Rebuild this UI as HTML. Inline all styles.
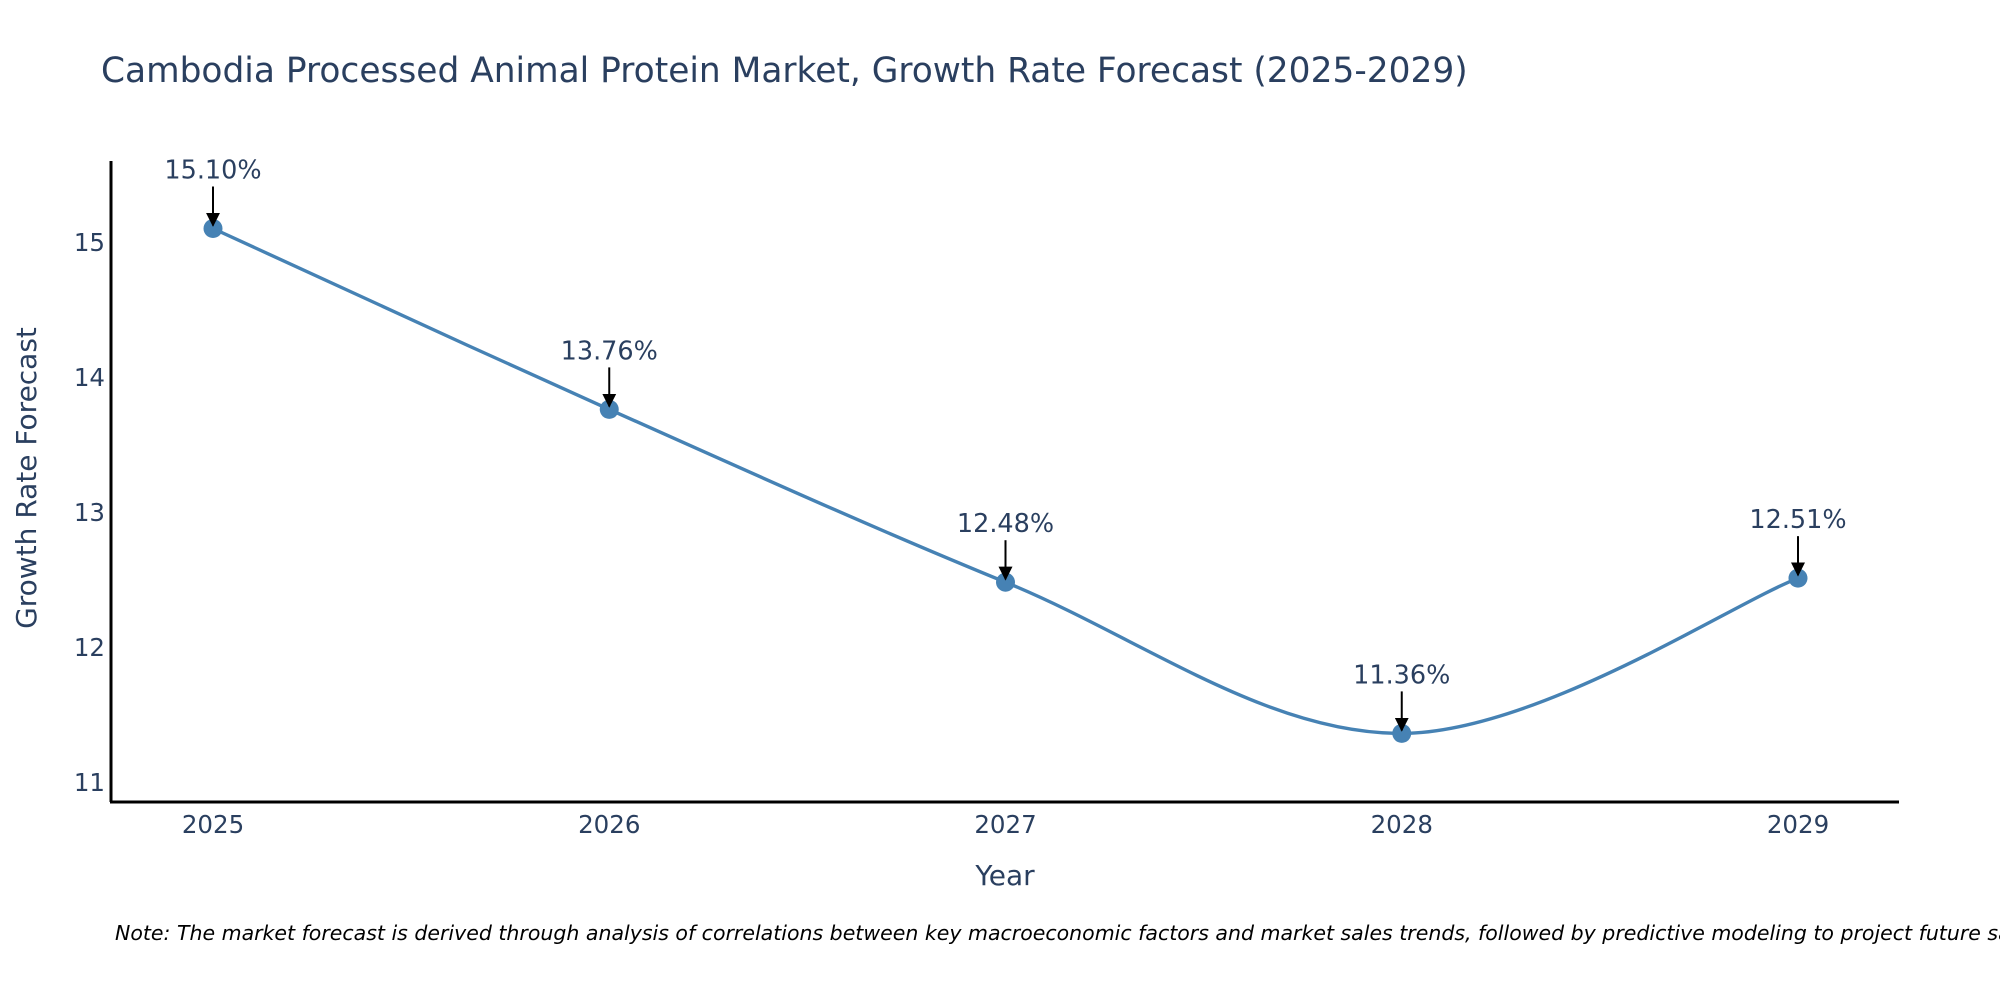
<!DOCTYPE html>
<html><head><meta charset="utf-8"><style>
body{margin:0;background:#fff;}
svg{display:block;font-family:"DejaVu Sans","Liberation Sans",sans-serif;}
</style></head><body>
<svg id="chart" width="2000" height="1000" viewBox="0 0 2000 1000">
<defs>
<marker id="ah" viewBox="0 0 10 10" refX="9" refY="5" markerWidth="7" markerHeight="7" orient="auto"><path d="M0,0 L10,5 L0,10 z" fill="#000"/></marker>
</defs>
<text x="101" y="82" font-size="34.4" fill="#2a3f5f">Cambodia Processed Animal Protein Market, Growth Rate Forecast (2025-2029)</text>
<g id="yticks"></g>
<g id="xticks"></g>
<line x1="111" y1="161" x2="111" y2="802" stroke="#000" stroke-width="3"/>
<line x1="110" y1="802" x2="1899" y2="802" stroke="#000" stroke-width="3"/>
<g id="series"></g>
<text transform="translate(36,478) rotate(-90)" text-anchor="middle" font-size="28" fill="#2a3f5f">Growth Rate Forecast</text>
<text x="1005" y="885" text-anchor="middle" font-size="28" fill="#2a3f5f">Year</text>
<text x="115" y="940" font-size="20.5" font-style="italic" fill="#000">Note: The market forecast is derived through analysis of correlations between key macroeconomic factors and market sales trends, followed by predictive modeling to project future sales.</text>
</svg>
<script>
const years = ["2025","2026","2027","2028","2029"];
const values = [15.10, 13.76, 12.48, 11.36, 12.51];
const labels = ["15.10%","13.76%","12.48%","11.36%","12.51%"];
const yTicks = [11, 12, 13, 14, 15];

const NS = "http://www.w3.org/2000/svg";
function xPos(i){ return 213 + i * 396.25; }
function yPos(v){ return 782 - (v - 11) * 135; }
function mk(tag, attrs, parent){ const e = document.createElementNS(NS, tag); for (const k in attrs) e.setAttribute(k, attrs[k]); parent.appendChild(e); return e; }

const yg = document.getElementById('yticks');
yTicks.forEach(t => {
  const e = mk('text', {x: 105, y: yPos(t) + 9, 'text-anchor': 'end', 'font-size': 24.5, fill: '#2a3f5f'}, yg);
  
  
  e.textContent = t;
});
const xg = document.getElementById('xticks');
years.forEach((y, i) => {
  const e = mk('text', {x: xPos(i), y: 833, 'text-anchor': 'middle', 'font-size': 24.5, fill: '#2a3f5f'}, xg);
  
  
  e.textContent = y;
});

const sg = document.getElementById('series');
const pts = values.map((v, i) => [xPos(i), yPos(v)]);
let d = `M${pts[0][0]},${pts[0][1]}`;
const tns = 0.17;
for (let i = 0; i < pts.length - 1; i++) {
  const p0 = pts[Math.max(0, i - 1)], p1 = pts[i], p2 = pts[i + 1], p3 = pts[Math.min(pts.length - 1, i + 2)];
  const c1 = [p1[0] + (p2[0] - p0[0]) * tns, p1[1] + (p2[1] - p0[1]) * tns];
  const c2 = [p2[0] - (p3[0] - p1[0]) * tns, p2[1] - (p3[1] - p1[1]) * tns];
  d += ` C${c1[0]},${c1[1]} ${c2[0]},${c2[1]} ${p2[0]},${p2[1]}`;
}
const line = mk('path', {d: d, fill: 'none', stroke: '#4682b4', 'stroke-width': 3.4}, sg);



pts.forEach((p, i) => {
  const c = mk('circle', {cx: p[0], cy: p[1], r: 9.5, fill: '#4682b4'}, sg);
  
  
  const a = mk('line', {x1: p[0], y1: p[1] - 42, x2: p[0], y2: p[1] - 3, stroke: '#000', 'stroke-width': 2, 'marker-end': 'url(#ah)'}, sg);
  
  
  const t = mk('text', {x: p[0], y: p[1] - 50, 'text-anchor': 'middle', 'font-size': 25.5, fill: '#2a3f5f'}, sg);
  
  
  t.textContent = labels[i];
});
</script>
</body></html>
